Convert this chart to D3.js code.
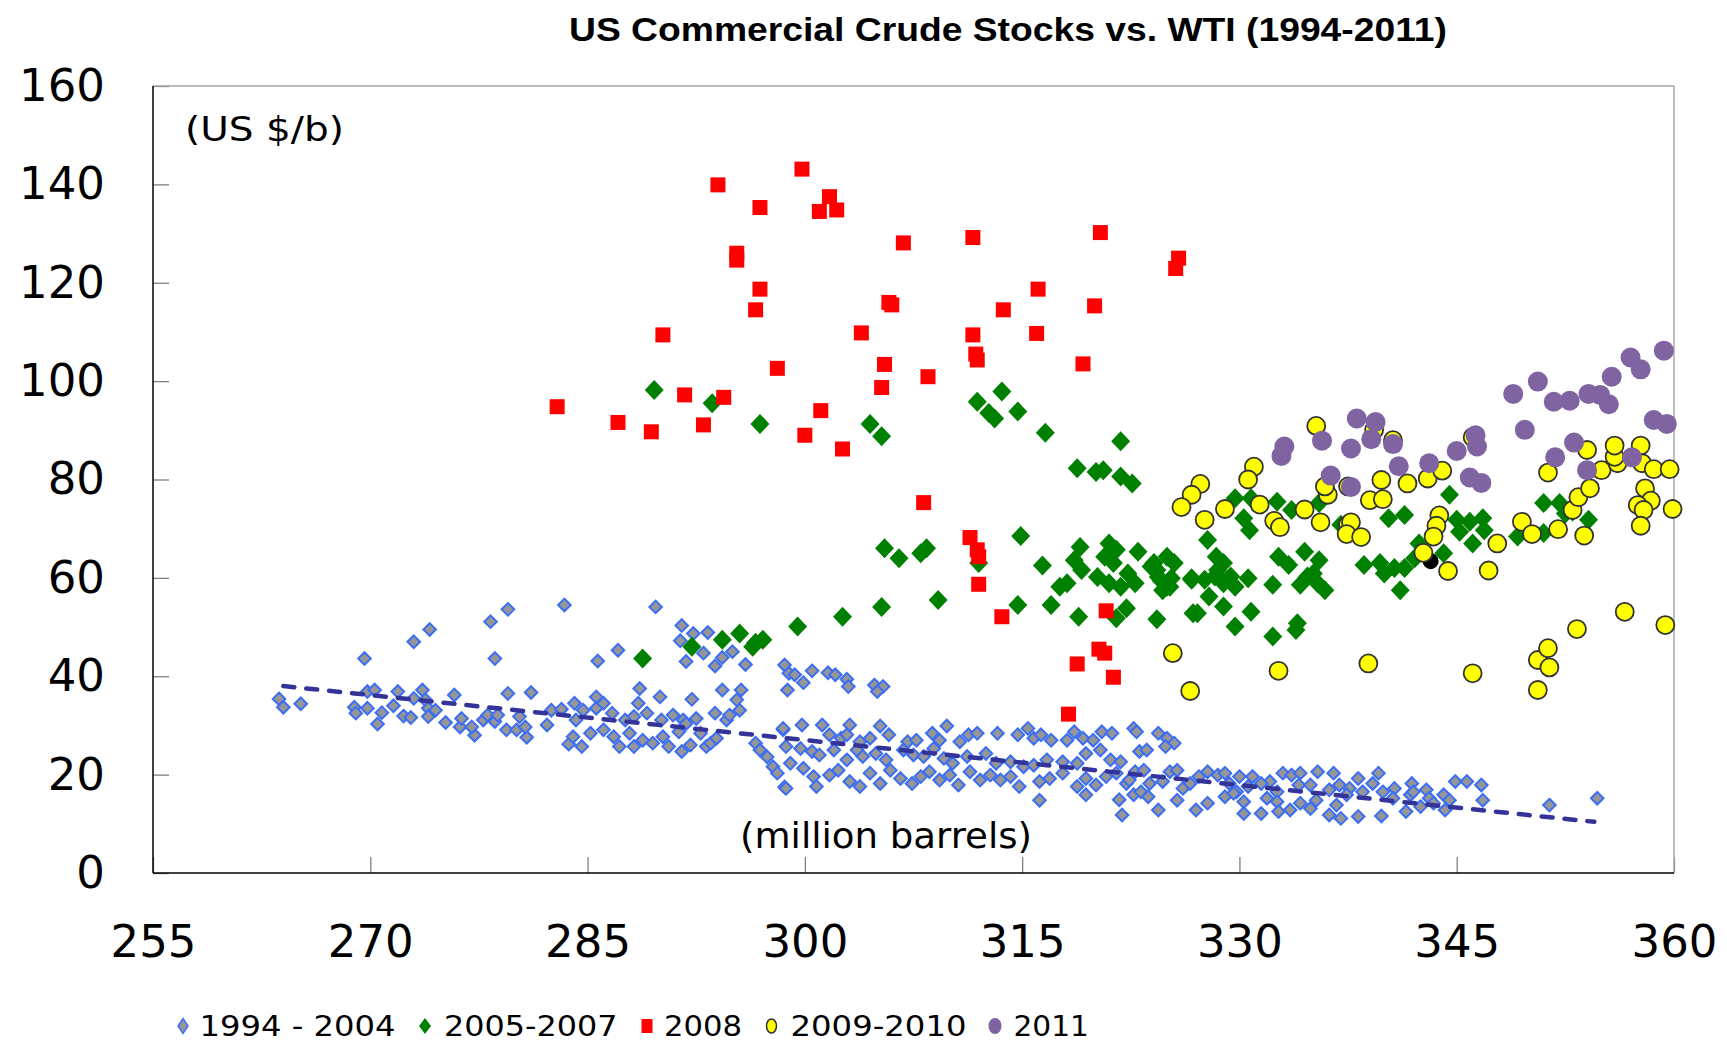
<!DOCTYPE html>
<html><head><meta charset="utf-8">
<script src="https://cdn.jsdelivr.net/npm/d3@7"></script>
<style>body{margin:0;background:#fff;} svg{display:block;}</style>
</head><body><svg id="c" width="1727" height="1043"></svg>
<script>
const chartTitle = "US Commercial Crude Stocks vs. WTI (1994-2011)";
const yUnitLabel = "(US $/b)";
const xUnitLabel = "(million barrels)";
const xTicks = [255, 270, 285, 300, 315, 330, 345, 360];
const yTicks = [0, 20, 40, 60, 80, 100, 120, 140, 160];
const legendLabels = ["1994 - 2004", "2005-2007", "2008", "2009-2010", "2011"];

// [stocks (million barrels), WTI (US $/b)]
const s1994_2004 = [
[269.6,43.6],[273.0,47.0],[274.1,49.5],[278.3,51.1],[279.5,53.6],[278.6,43.6],[283.4,54.5],[285.7,43.1],[287.1,45.3],[289.7,54.1],[291.5,50.3],[292.3,48.7],[293.3,48.9],[291.4,47.2],[293.0,44.7],[291.8,43.0],[293.8,42.1],[294.3,43.8],[295.0,45.0],[295.9,42.4],[298.6,42.3],[298.9,40.6],[298.8,37.2],
[263.7,35.4],[264.0,33.7],[265.2,34.4],[268.9,33.7],[269.0,32.5],[269.8,36.9],[270.3,37.2],[269.8,33.5],[270.8,32.6],[270.5,30.3],[271.6,34.0],[271.9,36.9],[272.3,31.9],[272.8,31.6],[273.0,35.5],[273.6,37.2],[273.8,35.2],[274.0,33.5],[274.0,31.8],
[274.5,33.1],[275.2,30.6],[275.8,36.2],[276.2,29.7],[276.3,31.4],[277.2,28.0],[277.0,29.7],[277.8,31.1],[278.1,32.1],[278.6,30.8],[278.8,32.1],[279.4,29.1],[279.5,36.5],[280.1,29.1],[280.3,31.8],[280.8,27.6],[280.7,29.7],[281.1,36.7],[282.2,30.1],[282.5,33.1],[283.2,33.3],[283.7,26.2],[284.1,34.5],[284.2,31.1],[284.0,27.7],[284.6,25.7],[284.7,33.1],[285.2,28.4],[285.6,35.8],[285.6,33.5],[286.1,34.5],[286.1,29.1],[286.7,32.5],[286.8,27.7],[287.2,25.7],[287.6,31.1],[287.9,28.4],[288.2,31.8],[288.6,37.5],[288.5,34.5],[288.2,25.7],[288.8,27.0],[289.1,32.5],[289.5,26.4],[290.0,35.8],[290.1,31.1],[290.2,27.7],[290.6,25.7],[290.9,32.1],[291.3,28.7],[291.6,31.1],[291.5,24.7],[292.1,26.0],[292.2,35.3],[291.8,30.4],[292.5,31.4],[292.8,28.4],[293.2,25.7],[293.5,26.4],[293.8,32.5],[293.9,27.4],[294.3,37.2],[294.6,31.1],[294.8,32.1],[295.3,35.2],[295.5,33.1],[295.6,37.2],[296.6,26.4],[296.9,25.0],[297.4,23.6],[297.8,21.6],[298.1,20.3],[298.5,29.1],[298.6,17.5],
[299.3,40.3],[299.9,38.7],[300.5,41.1],[301.6,40.7],[302.1,40.3],[302.9,39.4],[303.0,37.9],[304.8,38.2],[305.4,37.9],[305.0,36.9],
[298.5,29.4],[299.8,30.1],[301.2,30.1],[301.7,28.1],[302.5,27.4],[303.1,30.1],[302.9,28.1],[303.8,26.7],[304.5,27.4],[305.2,29.9],[305.8,28.1],[307.1,26.7],[307.7,27.0],[308.8,28.4],[309.3,27.0],[309.8,29.9],[310.7,26.7],[311.3,28.1],[311.9,28.4],[313.3,28.4],[314.7,28.1],[315.4,29.4],[315.8,27.4],[316.3,28.1],[317.0,27.0],[318.1,27.0],[318.6,28.7],[319.2,27.4],[319.9,27.0],[320.5,28.7],[321.2,28.4],[322.7,29.4],
[298.7,25.7],[299.7,25.3],[300.5,24.7],[301.0,24.0],[302.0,25.0],[302.9,23.0],[303.6,25.0],[304.0,23.7],[304.9,24.3],[305.6,23.0],[306.8,25.0],[307.5,24.0],[308.2,23.7],[308.9,25.3],[309.6,23.3],[310.2,22.3],[311.2,23.7],[312.5,24.3],[313.2,22.3],[314.2,22.6],[315.1,21.6],[315.8,21.9],[316.7,23.0],[317.8,22.6],[318.8,22.3],[319.4,24.3],[320.4,25.0],[321.1,23.0],[321.8,22.6],
[299.0,22.3],[299.9,21.3],[300.6,19.6],[301.7,19.9],[302.3,20.9],[303.1,18.6],[303.8,17.6],[304.5,20.3],[305.2,18.2],[305.9,20.9],[306.6,19.2],[307.4,18.2],[308.0,19.6],[308.6,20.6],[309.3,18.9],[310.0,19.9],[310.6,17.9],[311.4,20.6],[312.1,18.9],[312.8,19.9],[313.5,18.9],[314.2,19.6],[314.8,17.6],[316.2,18.6],[316.9,19.2],[317.8,20.3],[318.8,17.6],[319.4,19.2],[320.1,17.9],[320.8,19.6],[321.5,20.3],[322.2,18.2],
[298.7,17.2],[300.8,17.6],[316.2,14.8],[319.4,15.9],[321.7,14.9],[321.9,11.8],[322.7,15.9],
[322.9,28.7],[324.4,28.4],[325.0,27.4],[325.5,26.4],[323.1,24.7],[323.6,25.0],[324.9,25.7],
[322.8,20.6],[323.4,20.9],[325.2,20.6],[325.7,20.9],[327.2,19.6],[327.8,20.6],[328.5,19.9],[329.0,20.3],[330.0,19.6],[330.9,19.6],[332.1,18.6],[333.0,20.3],[333.6,19.9],[334.2,20.3],[335.4,20.6],[336.5,20.3],[338.2,19.2],[339.6,20.3],[340.7,17.2],[341.9,18.2],[342.9,16.9],[344.9,18.6],[345.7,18.6],[346.7,17.9],
[322.4,18.9],[323.8,18.2],[324.7,18.6],[326.1,17.2],[326.6,18.2],[329.3,18.2],[329.8,16.5],[330.6,17.6],[331.5,18.2],[332.6,16.5],[334.1,17.9],[334.9,17.9],[336.2,16.9],[336.9,17.9],[337.6,17.2],[338.5,16.5],[339.2,18.2],[339.9,16.5],[341.8,15.9],[343.1,15.2],[344.1,15.9],[344.5,14.8],
[323.2,16.5],[323.7,15.5],[324.4,12.8],[325.7,14.8],[327.0,12.8],[327.8,14.2],[329.0,15.5],[329.6,16.2],[330.3,14.5],[330.3,12.1],[331.5,12.1],[331.9,15.2],[332.6,14.5],[332.7,12.5],[333.5,12.8],[334.2,14.2],[334.9,13.1],[335.3,14.8],[336.2,11.8],[336.7,13.8],[337.0,11.1],[338.2,11.5],[337.4,15.9],[339.8,11.6],[340.6,15.2],[341.5,12.5],[342.0,16.5],[342.5,13.5],[343.4,14.2],[344.2,12.8],[346.8,14.8],
[351.4,13.8],[354.7,15.2]
];

const s2005_2007 = [
[288.8,43.6],[292.2,46.0],[294.3,47.4],[295.5,48.7],[296.4,46.0],[297.1,47.4],[296.6,46.8],[299.5,50.1],[302.6,52.1],[305.3,54.1],[305.5,66.0],[306.5,64.0],[308.0,65.0],[308.4,66.0],[309.2,55.5],[312.0,63.0],
[289.6,98.2],[293.6,95.5],[296.9,91.3],[304.5,91.3],[305.3,88.8],[311.9,95.8],[313.6,97.9],[312.7,93.5],[313.1,92.4],[314.7,93.8],[316.6,89.5],[321.8,87.8],[318.8,82.3],[320.1,81.5],[320.6,81.9],[321.8,80.6],[322.6,79.2],
[314.9,68.5],[316.4,62.5],[319.0,66.3],[318.6,63.6],[319.1,61.6],[321.0,67.0],[321.5,65.7],[320.7,64.3],[321.3,63.0],[320.2,60.2],[321.0,58.9],[321.8,58.2],[322.3,60.9],[322.8,58.9],[323.0,65.3],[323.9,62.3],[324.4,60.2],[325.0,64.3],[325.5,63.0],[324.7,57.5],[325.2,58.2],[326.7,59.6],[326.8,52.8],[317.6,58.2],[318.1,58.9],[317.0,54.5],[318.9,52.1],[321.5,51.8],[322.2,53.8],[324.3,51.6],[314.7,54.5],
[329.7,76.2],[330.8,76.2],[332.6,75.5],[333.6,73.8],[330.3,72.1],[330.7,69.7],[327.8,67.7],[324.3,61.6],[325.0,58.2],[326.7,59.9],[327.6,59.6],[328.4,64.3],[328.5,61.6],[328.9,58.9],[329.4,60.3],[330.6,59.9],[327.9,56.2],[327.1,52.8],[328.9,54.2],[330.8,53.1],[329.7,50.1],[332.3,48.1],[334.0,50.8],[333.9,49.4],[332.7,64.3],[333.4,62.6],[332.3,58.6],[334.5,65.3],[335.5,63.6],[335.1,60.9],[334.2,58.6],[335.9,57.5],[335.5,75.2],[337.0,70.8],[338.6,62.6],[339.7,63.0],[340.0,60.9],[340.7,62.0],[341.4,62.0],[341.1,57.5],[340.3,72.1],[341.4,72.8],[344.5,76.9],[342.4,67.0],[342.1,64.0],[344.1,65.0],[345.0,71.8],[345.9,71.4],[346.8,72.1],[345.2,69.4],[346.1,67.0],[346.9,69.7],[349.2,68.4],[351.0,69.1],[351.0,75.2],[352.1,75.2],[352.5,73.1],[354.1,71.8],[353.0,73.5],
[324.1,63.0],[325.3,59.9],[324.6,59.4],[328.9,63.0],[328.3,60.3],[329.7,58.2],[334.7,60.3],[335.4,58.9]
];

const s2008 = [
[299.8,143.1],[294.0,139.9],[296.9,135.3],[301.7,137.5],[301.0,134.5],[302.2,134.8],[306.8,128.1],[311.6,129.2],[320.4,130.2],[325.8,125.0],[325.6,122.9],[295.3,126.0],[295.3,124.6],[296.9,118.7],[296.6,114.5],[305.8,116.0],[306.0,115.5],[316.1,118.7],[313.7,114.5],[320.0,115.3],[290.2,109.4],[303.9,109.8],[311.6,109.4],[316.0,109.7],[311.8,105.5],[311.9,104.3],[298.1,102.6],[305.5,103.4],[319.2,103.5],[308.5,100.9],[305.3,98.7],[291.7,97.2],[294.4,96.7],[282.9,94.8],[301.1,94.0],[287.1,91.6],[289.4,89.7],[293.0,91.1],[300.0,89.0],[302.6,86.2],
[308.2,75.3],[311.4,68.2],[311.9,65.7],[312.0,64.3],[312.0,58.7],[313.6,52.1],[320.8,53.3],[320.3,45.5],[320.7,44.7],[318.8,42.5],[321.3,39.8],[318.2,32.3]
];

const s2009_2010 = [
[335.3,90.9],[331.0,82.6],[330.6,80.0],[327.3,79.1],[326.7,76.9],[326.0,74.4],[327.6,71.8],[329.0,74.0],[331.4,74.9],[332.4,71.6],[332.8,70.3],[334.5,73.9],[335.6,71.3],[336.1,76.9],[335.9,78.6],[337.5,78.6],[337.5,70.8],[337.7,71.3],[337.4,68.9],[338.4,68.3],[339.0,75.8],[339.9,76.0],[339.8,79.9],[341.6,79.2],[340.6,88.0],[339.3,90.1],[343.0,80.2],[344.0,81.8],[346.1,88.6],[343.8,72.7],[343.6,70.6],[343.4,68.4],[342.7,65.1],[344.4,61.4],[347.2,61.5],[347.8,67.0],[349.5,71.4],[350.2,68.9],[352.0,69.9],[353.8,68.6],[353.0,73.8],[353.4,76.4],[354.2,78.2],[354.0,86.0],[355.0,81.9],[356.1,83.3],[355.9,84.6],[355.9,86.9],[357.7,86.9],[357.8,83.3],[358.6,82.1],[359.7,82.1],[358.0,78.2],[358.4,75.7],[357.5,74.8],[357.9,73.8],[357.7,70.6],[359.9,74.0],[351.3,81.4],
[325.4,44.7],[326.6,37.0],[332.7,41.1],[338.9,42.6],[346.1,40.6],[350.6,43.3],[351.3,45.7],[351.4,41.8],[350.6,37.2],[353.3,49.6],[356.6,53.1],[359.4,50.4]
];

const s2011 = [
[359.3,106.2],[357.0,104.8],[357.7,102.4],[355.7,100.9],[348.9,97.4],[350.6,99.9],[351.7,95.8],[352.8,96.0],[354.1,97.4],[354.9,97.2],[355.5,95.3],[358.6,92.1],[359.5,91.3],[349.7,90.1],[353.1,87.5],[351.8,84.5],[354.0,81.9],[357.1,84.5],[345.0,85.8],[346.3,89.0],[346.4,86.7],[345.9,80.4],[346.7,79.3],[343.1,83.3],[341.0,82.7],[340.6,87.2],[339.4,91.7],[339.1,88.2],[338.1,92.4],[337.7,86.3],[336.3,80.8],[337.7,78.5],[335.7,87.9],[333.1,86.7],[332.9,84.8]
];

const latestPoint = [[343.2,63.4]];
const trendLine = [[264.0,38.0],[354.5,10.4]];

// ---------------- drawing ----------------
const svg = d3.select("#c");
const W = 1727, H = 1043;
const plot = {left:153, right:1674, top:86, bottom:873};
const x = d3.scaleLinear().domain([255,360]).range([plot.left, plot.right]);
const y = d3.scaleLinear().domain([0,160]).range([plot.bottom, plot.top]);
const FONT = "'DejaVu Sans', Verdana, sans-serif";

svg.append("rect").attr("width",W).attr("height",H).attr("fill","#fff");

// title
svg.append("text").attr("x",569).attr("y",41)
  .attr("font-family","'Liberation Sans Narrow','Arial Narrow','Liberation Sans',Arial,sans-serif")
  .attr("font-weight","bold").attr("font-size",34)
  .attr("textLength",878).attr("lengthAdjust","spacingAndGlyphs")
  .text(chartTitle);

// axes
const yAxis = d3.axisLeft(y).tickValues(yTicks).tickSize(-16).tickPadding(48).tickFormat(d3.format("d"));
const xAxis = d3.axisBottom(x).tickValues(xTicks).tickSize(-16).tickPadding(52).tickFormat(d3.format("d"));
const gy = svg.append("g").attr("transform",`translate(${plot.left},0)`).call(yAxis);
const gx = svg.append("g").attr("transform",`translate(0,${plot.bottom})`).call(xAxis);
[gx,gy].forEach(g=>{
  g.select(".domain").remove();
  g.selectAll(".tick line").attr("stroke","#7f7f7f").attr("stroke-width",1.3);
  g.selectAll(".tick text").attr("font-family",FONT).attr("font-size",45).attr("fill","#000");
});

// frame
svg.append("line").attr("x1",plot.left).attr("x2",plot.right).attr("y1",plot.top).attr("y2",plot.top).attr("stroke","#a6a6a6").attr("stroke-width",1.5);
svg.append("line").attr("x1",plot.right).attr("x2",plot.right).attr("y1",plot.top).attr("y2",plot.bottom).attr("stroke","#a6a6a6").attr("stroke-width",1.5);
svg.append("line").attr("x1",plot.left).attr("x2",plot.left).attr("y1",plot.top).attr("y2",plot.bottom).attr("stroke","#000").attr("stroke-width",1.5);
svg.append("line").attr("x1",plot.left).attr("x2",plot.right).attr("y1",plot.bottom).attr("y2",plot.bottom).attr("stroke","#000").attr("stroke-width",1.5);

// unit labels
svg.append("text").attr("x",185).attr("y",141).attr("font-family",FONT).attr("font-size",33)
  .attr("textLength",159).attr("lengthAdjust","spacingAndGlyphs").text(yUnitLabel);
svg.append("text").attr("x",740).attr("y",848).attr("font-family",FONT).attr("font-size",36)
  .attr("textLength",292).attr("lengthAdjust","spacingAndGlyphs").text(xUnitLabel);

const diamond = (w,h)=>`M0,${-h}L${w},0L0,${h}L${-w},0Z`;

// series
svg.append("g").selectAll("path").data(s1994_2004).join("path")
  .attr("d",diamond(6.3,6.3)).attr("transform",d=>`translate(${x(d[0])},${y(d[1])})`)
  .attr("fill","#969696").attr("stroke","#3b6ef5").attr("stroke-width",2);

svg.append("path").datum(trendLine)
  .attr("d",d3.line().x(d=>x(d[0])).y(d=>y(d[1])))
  .attr("fill","none").attr("stroke","#333399").attr("stroke-width",4.5)
  .attr("stroke-dasharray","11,12").attr("stroke-linecap","round");

svg.append("g").selectAll("path").data(s2005_2007).join("path")
  .attr("d",diamond(9.5,10)).attr("transform",d=>`translate(${x(d[0])},${y(d[1])})`)
  .attr("fill","#008000");

svg.append("g").selectAll("rect").data(s2008).join("rect")
  .attr("x",d=>x(d[0])-7.5).attr("y",d=>y(d[1])-7.5).attr("width",15).attr("height",15)
  .attr("fill","#ff0000");

svg.append("g").selectAll("circle").data(latestPoint).join("circle")
  .attr("cx",d=>x(d[0])).attr("cy",d=>y(d[1])).attr("r",8).attr("fill","#000");

svg.append("g").selectAll("circle").data(s2009_2010).join("circle")
  .attr("cx",d=>x(d[0])).attr("cy",d=>y(d[1])).attr("r",9)
  .attr("fill","#ffff00").attr("stroke","#333").attr("stroke-width",1.8);

svg.append("g").selectAll("circle").data(s2011).join("circle")
  .attr("cx",d=>x(d[0])).attr("cy",d=>y(d[1])).attr("r",10).attr("fill","#8064a2");

// legend
const legendLayout = [
  {mx:183, tx:199.5, tl:196},
  {mx:425, tx:444, tl:173.5},
  {mx:647, tx:664, tl:78},
  {mx:771.5, tx:790.5, tl:176},
  {mx:995, tx:1013.5, tl:75.5}
];
const ly = 1026;
const lg = svg.append("g");
legendLabels.forEach((lab,i)=>{
  const L = legendLayout[i];
  if(i===0) lg.append("path").attr("d",diamond(5,7.5)).attr("transform",`translate(${L.mx},${ly})`).attr("fill","#969696").attr("stroke","#3b6ef5").attr("stroke-width",1.5);
  if(i===1) lg.append("path").attr("d",diamond(6,8)).attr("transform",`translate(${L.mx},${ly})`).attr("fill","#008000");
  if(i===2) lg.append("rect").attr("x",L.mx-5.5).attr("y",ly-7).attr("width",11).attr("height",14).attr("fill","#ff0000");
  if(i===3) lg.append("ellipse").attr("cx",L.mx).attr("cy",ly).attr("rx",5).attr("ry",7).attr("fill","#ffff00").attr("stroke","#333").attr("stroke-width",1.5);
  if(i===4) lg.append("ellipse").attr("cx",L.mx).attr("cy",ly).attr("rx",6.5).attr("ry",8).attr("fill","#8064a2");
  lg.append("text").attr("x",L.tx).attr("y",1036).attr("font-family",FONT).attr("font-size",28)
    .attr("textLength",L.tl).attr("lengthAdjust","spacingAndGlyphs").text(lab);
});
</script>
</body></html>
